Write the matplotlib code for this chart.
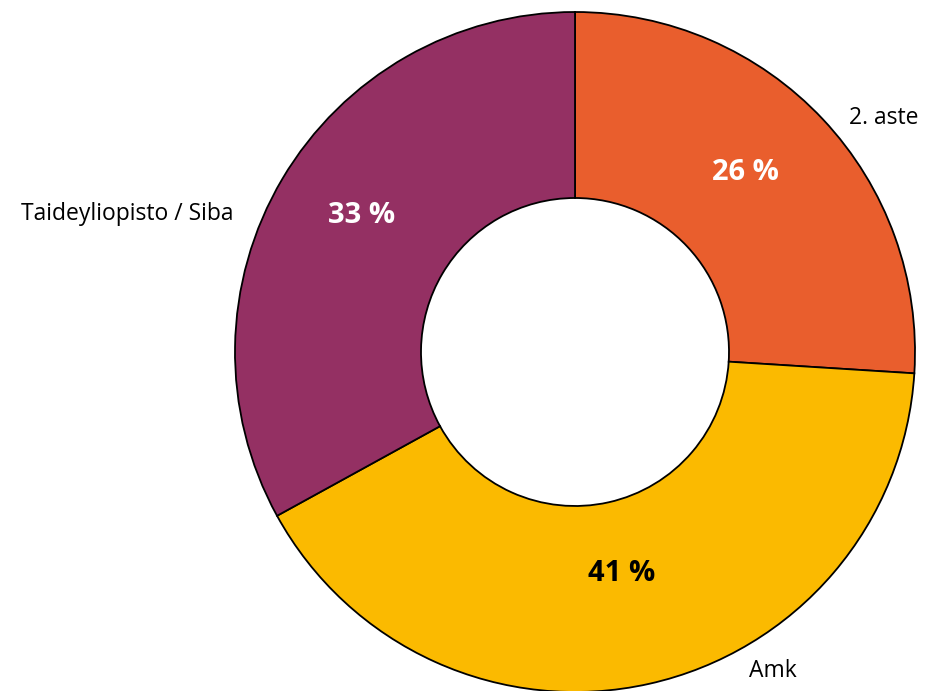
"""
Donut chart of respondents by school level
"""

import numpy as np
import matplotlib.pyplot as plt

categories = ['2. aste', 'Amk', 'Taideyliopisto / Siba']
shares = [26, 41, 33]
colors = ['#E95E2D', '#FBBA00', '#943063']
pct_colors = ['white', 'black', 'white']

plt.rcParams['font.family'] = ['Open Sans', 'DejaVu Sans']

fig = plt.figure(figsize=(9.25, 6.91), dpi=100)
ax = fig.add_axes([0, 0, 1, 1])

cx, cy, r_out = 575, 339, 340
r_in = 154

wedges, _ = ax.pie(shares, colors=colors, startangle=90, counterclock=False,
                   center=(cx, cy), radius=r_out, frame=True,
                   wedgeprops=dict(width=r_out - r_in, edgecolor='black',
                                   linewidth=1.3))
ax.set_xlim(0, 925)
ax.set_ylim(0, 691)
ax.set_aspect('equal')
ax.axis('off')

# Percentage labels near the middle of each slice
for w, val, c in zip(wedges, shares, pct_colors):
    mid = np.deg2rad((w.theta1 + w.theta2) / 2)
    rr = 0.71 * r_out
    ax.text(cx + rr * np.cos(mid) - 6, cy + rr * np.sin(mid) + 14,
            f'{val} %', ha='center', va='center', color=c, fontsize=21,
            fontweight='bold')

# Category labels outside the ring
label_pos = [(38, 380, 'left'), (-58, 376, 'left'), (158, 368, 'right')]
for name, (ang, rr, ha) in zip(categories, label_pos):
    a = np.deg2rad(ang)
    ax.text(cx + rr * np.cos(a) - (25 if ha == 'left' else 0),
            cy + rr * np.sin(a), name, ha=ha, va='center',
            fontsize=16.5, color='black')

fig.savefig('out.png', dpi=100)
